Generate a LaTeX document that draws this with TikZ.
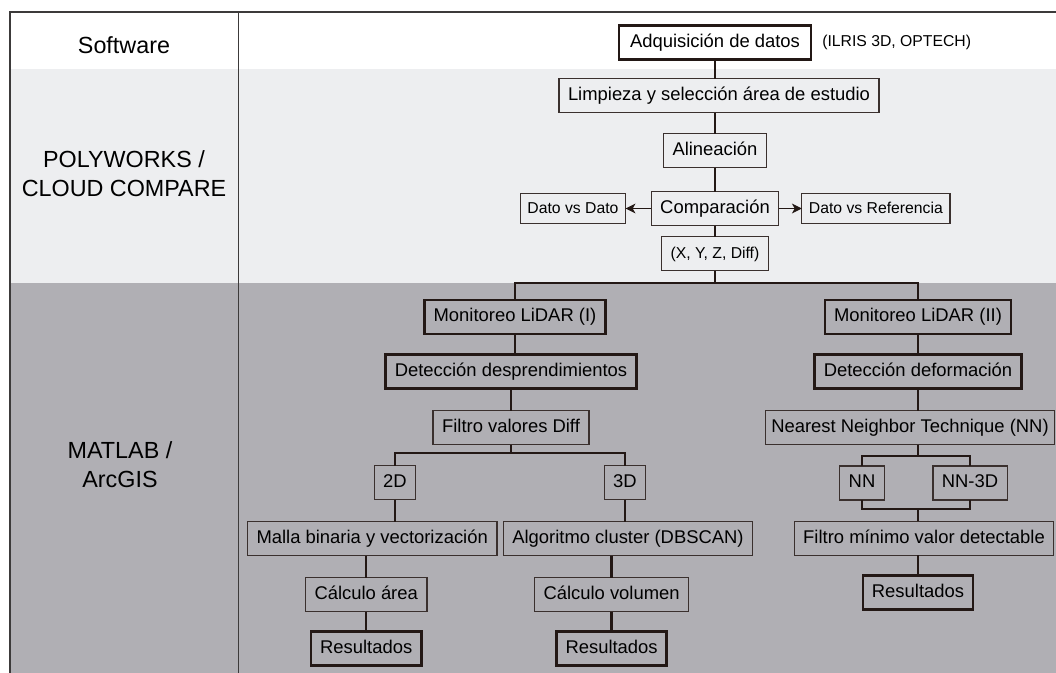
\documentclass[tikz,border=0pt]{standalone}
\usepackage{fontspec}
\setmainfont{Liberation Sans}
\usepackage{tikz}
\usetikzlibrary{arrows.meta, positioning, calc}

\definecolor{bandlight}{HTML}{EDEEF0}
\definecolor{banddark}{HTML}{B0AFB4}
\definecolor{framec}{HTML}{3C3A3A}
\definecolor{linec}{HTML}{231815}
\definecolor{thinc}{HTML}{3A302E}

\newcommand{\boxtxt}{\fontsize{13.1}{15.7}\selectfont}
\newcommand{\smalltxt}{\fontsize{11.2}{13.4}\selectfont}
\newcommand{\bandtxt}{\fontsize{16.6}{20.6}\selectfont}

\begin{document}
\begin{tikzpicture}[
		font=\boxtxt,
		box/.style={draw=thinc, line width=0.9pt, rectangle, align=center, minimum height=0.85cm, inner xsep=0.225cm, inner ysep=0pt, outer sep=0pt, text height=9.4pt, text depth=2.4pt},
		bbox/.style={box, draw=linec, line width=1.9pt},
		sbox/.style={box, font=\smalltxt, minimum height=0.75cm, inner xsep=0.18cm},
		link/.style={draw=linec, line width=1.6pt},
		arrow/.style={-{Stealth[length=7pt, width=7pt, inset=2pt]}, draw=linec, line width=0.8pt},
		band/.style={align=center, font=\bandtxt}
		]
		
		\useasboundingbox (0,0) rectangle (26.4,-16.825);
		
		% Bands
		\fill[white] (0,0) rectangle (26.4,-1.7325);
		\fill[bandlight] (0.25,-1.7325) rectangle (26.4,-7.0825);
		\fill[banddark] (0.25,-7.0825) rectangle (26.4,-16.825);
		\draw[framec, line width=1.4pt] (0.25,-16.825) -- (0.25,-0.3) -- (26.4,-0.3);
		\draw[framec, line width=1.4pt] (5.9625,-0.3) -- (5.9625,-16.825);
		
		% Software column
		\node[band] (soft) at (3.1,-1.14) {Software};
		\node[band] (poly) at (3.1,-4.34) {POLYWORKS /\\CLOUD COMPARE};
		\node[band] (matlab) at (3.0,-11.61) {MATLAB /\\ArcGIS};
		
		% Acquisition
		\node[bbox, minimum width=4.8cm] (adq) at (17.875,-1.0625) {Adquisición de datos};
		\node[right=0.275cm of adq, inner sep=0pt, font=\smalltxt] (ilris) {(ILRIS 3D, OPTECH)};
		
		% Preprocessing
		\node[box, below=0.475cm of adq, xshift=0.1cm] (limp) {Limpieza y selección área de estudio};
		\node[box, below=0.525cm of limp, xshift=-0.1cm] (alin) {Alineación};
		
		% Comparison
		\node[box, below=0.6cm of alin] (comp) {Comparación};
		\node[sbox, left=0.64cm of comp] (dvd) {Dato vs Dato};
		\node[sbox, right=0.575cm of comp] (dvr) {Dato vs Referencia};
		\node[box, font=\smalltxt, below=0.275cm of comp] (xyz) {(X, Y, Z, Diff)};
		\coordinate[below=0.315cm of xyz] (split);
		
		% LiDAR monitoring (I)
		\node[bbox, below=0.42cm of split, xshift=-5cm] (mon1) {Monitoreo LiDAR (I)};
		\node[bbox, below=0.52cm of mon1, xshift=-0.1cm] (det1) {Detección desprendimientos};
		\node[box, below=0.55cm of det1] (filt) {Filtro valores Diff};
		\coordinate[below=0.2cm of filt] (fsplit);
		\node[box, below=0.325cm of fsplit, xshift=-2.9cm] (d2) {2D};
		\node[box, below=0.325cm of fsplit, xshift=2.85cm] (d3) {3D};
		\node[box, below=0.55cm of d2, xshift=-0.57cm] (malla) {Malla binaria y vectorización};
		\node[box, below=0.55cm of d3, xshift=0.075cm] (algo) {Algoritmo cluster (DBSCAN)};
		\node[box, below=0.55cm of malla, xshift=-0.15cm] (calca) {Cálculo área};
		\node[bbox, below=0.5cm of calca] (res1) {Resultados};
		\node[box, below=0.55cm of algo, xshift=-0.41cm] (calcv) {Cálculo volumen};
		\node[bbox, below=0.5cm of calcv] (res2) {Resultados};
		
		% LiDAR monitoring (II)
		\node[bbox, below=0.42cm of split, xshift=5.075cm] (mon2) {Monitoreo LiDAR (II)};
		\node[bbox, below=0.52cm of mon2] (det2) {Detección deformación};
		\node[box, below=0.55cm of det2, xshift=-0.2cm, inner xsep=0.15cm] (nnt) {Nearest Neighbor Technique (NN)};
		\coordinate (nsplit) at ($(nnt.south -| det2)+(0,-0.28)$);
		\node[box, below=0.25cm of nsplit, xshift=-1.4cm] (nn) {NN};
		\node[box, below=0.25cm of nsplit, xshift=1.3cm] (nn3) {NN-3D};
		\coordinate (njoin) at ($(nn.south -| nsplit)+(0,-0.235)$);
		\node[box, below=0.3cm of njoin, xshift=0.15cm] (filt2) {Filtro mínimo valor detectable};
		\node[bbox, below=0.5cm of filt2, xshift=-0.15cm] (res3) {Resultados};
		
		% Links
		\draw[link] (adq) -- (adq |- limp.north);
		\draw[link] (alin |- limp.south) -- (alin);
		\draw[link] (alin) -- (comp);
		\draw[link] (comp) -- (xyz);
		\draw[link] (xyz) -- (split);
		\draw[arrow] (comp) -- (dvd);
		\draw[arrow] (comp) -- (dvr);
		\draw[link] (mon1.north) |- (split) -| (mon2.north);
		
		\draw[link] (mon1) -- (mon1 |- det1.north);
		\draw[link] (det1) -- (det1 |- filt.north);
		\draw[link] (filt) -- (fsplit);
		\draw[link] (d2.north) |- (fsplit) -| (d3.north);
		\draw[link] (d2) -- (d2 |- malla.north);
		\draw[link] (d3) -- (d3 |- algo.north);
		\draw[link] (calca |- malla.south) -- (calca);
		\draw[link] (calca) -- (res1);
		\draw[link] (calcv |- algo.south) -- (calcv);
		\draw[link] (calcv) -- (res2);
		
		\draw[link] (mon2) -- (det2);
		\draw[link] (det2) -- (det2 |- nnt.north);
		\draw[link] (nsplit |- nnt.south) -- (nsplit);
		\draw[link] (nn.north) |- (nsplit) -| (nn3.north);
		\draw[link] (nn.south) |- (njoin) -| (nn3.south);
		\draw[link] (njoin) -- (njoin |- filt2.north);
		\draw[link] (res3 |- filt2.south) -- (res3);
		
	\end{tikzpicture}
\end{document}
